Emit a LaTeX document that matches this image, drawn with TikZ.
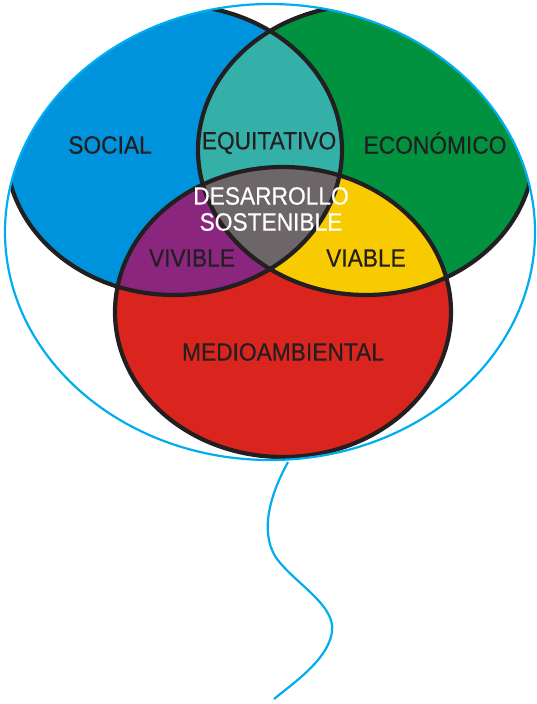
\documentclass[tikz,border=0pt]{standalone}
\usepackage{fontspec}
\setmainfont{Liberation Sans}[FakeStretch=0.91,FakeBold=0.35]
\definecolor{cSoc}{HTML}{0093DD}
\definecolor{cEco}{HTML}{00923F}
\definecolor{cEnv}{HTML}{D9251D}
\definecolor{cEqu}{HTML}{35B0A8}
\definecolor{cViv}{HTML}{8A267E}
\definecolor{cVia}{HTML}{F7CB00}
\definecolor{cSos}{HTML}{6D6669}
\definecolor{cLine}{HTML}{231F20}
\definecolor{cBal}{HTML}{00AEEF}
\tikzset{
  lbl/.style={text=cLine, font=\fontsize{25}{29}\selectfont, inner sep=0pt, anchor=center},
  wlbl/.style={text=white, font=\fontsize{25}{28}\selectfont, inner sep=0pt, align=center},
  edge/.style={draw=cLine, line width=4.2pt},
  balloon/.style={draw=cBal, line width=2.2pt},
}
\def\Soc{(174,150) ellipse [x radius=168pt, y radius=145pt]}
\def\Eco{(366,150) ellipse [x radius=168pt, y radius=145pt]}
\def\Env{(283,312) ellipse [x radius=168pt, y radius=145pt]}
\def\Bal{(270,232) ellipse [x radius=265pt, y radius=228pt]}
\begin{document}
\begin{tikzpicture}[x=1pt,y=-1pt]
\useasboundingbox (0,0) rectangle (536,704);
\begin{scope}
  \clip \Bal;
  \fill[cSoc] \Soc;
  \fill[cEco] \Eco;
  \fill[cEnv] \Env;
  \begin{scope}\clip \Soc; \fill[cEqu] \Eco; \end{scope}
  \begin{scope}\clip \Soc; \fill[cViv] \Env; \end{scope}
  \begin{scope}\clip \Eco; \fill[cVia] \Env; \end{scope}
  \begin{scope}\clip \Soc; \clip \Eco; \fill[cSos] \Env; \end{scope}
  \draw[edge] \Soc;
  \draw[edge] \Eco;
  \draw[edge] \Env;
\end{scope}
\draw[balloon] \Bal;
\coordinate (knot) at (288,462);
\coordinate (tail) at (274,699);
\draw[balloon] (knot) .. controls (270,495) and (260,530) .. (275,556)
  .. controls (292,582) and (336,604) .. (332,632)
  .. controls (328,660) and (292,684) .. (tail);
\node[lbl] (social) at (110,145) {SOCIAL};
\node[lbl] (equit) at (269,143) {EQUITATIVO};
\node[lbl] (econ) at (435,143) {ECONÓMICO};
\node[wlbl] (des) at (271,209) {DESARROLLO\\[-2pt]SOSTENIBLE};
\node[lbl] (vivi) at (192,258) {VIVIBLE};
\node[lbl] (viab) at (366,258) {VIABLE};
\node[lbl] (medio) at (283,352) {MEDIOAMBIENTAL};
\end{tikzpicture}
\end{document}
